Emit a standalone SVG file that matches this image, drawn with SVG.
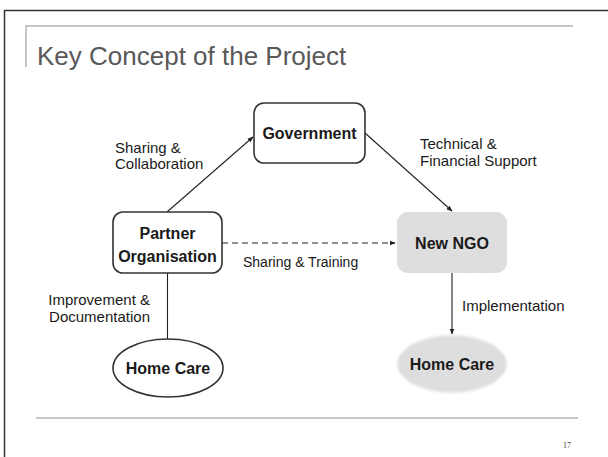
<svg xmlns="http://www.w3.org/2000/svg" width="608" height="457" viewBox="0 0 608 457">
<style>
.lbl{font-family:"Liberation Sans",Arial,sans-serif;font-size:15px;fill:#1a1a1a}
.nt{font-family:"Liberation Sans",Arial,sans-serif;font-size:16px;font-weight:bold;fill:#1a1a1a;text-anchor:middle}
.box{fill:#fff;stroke:#333;stroke-width:1.6}
.con{stroke:#222;stroke-width:1.1;fill:none}
</style>
<defs>
<marker id="ah" viewBox="0 0 10 10" refX="9" refY="5" markerWidth="6" markerHeight="6" orient="auto" markerUnits="userSpaceOnUse">
<path d="M0,1 L10,5 L0,9 z" fill="#222"/>
</marker>
<filter id="tex" x="-10%" y="-10%" width="120%" height="120%">
<feTurbulence type="fractalNoise" baseFrequency="0.9" numOctaves="2" seed="3" result="n"/>
<feColorMatrix in="n" type="matrix" values="0 0 0 0 0.6  0 0 0 0 0.6  0 0 0 0 0.6  0 0 0 0.35 0" result="g"/>
<feComposite in="g" in2="SourceAlpha" operator="in" result="gc"/>
<feMerge><feMergeNode in="SourceGraphic"/><feMergeNode in="gc"/></feMerge>
</filter>
<filter id="soft" x="-10%" y="-10%" width="120%" height="120%">
<feGaussianBlur stdDeviation="1.2"/>
</filter>
</defs>
<rect width="608" height="457" fill="#fff"/>
<g id="frame">
<path d="M4.5,457 V10.5 H608" fill="none" stroke="#333" stroke-width="1.5"/>
<path d="M26,67 V26 H573" fill="none" stroke="#b4b4b4" stroke-width="1.5"/>
<line x1="36" y1="418" x2="578" y2="418" stroke="#b4b4b4" stroke-width="1.5"/>
</g>
<text x="37" y="65" font-family="Liberation Sans,Arial,sans-serif" font-size="26" fill="#595959">Key Concept of the Project</text>
<text x="563" y="448" font-family="Liberation Serif,'Times New Roman',serif" font-size="8" fill="#444">17</text>
<g id="connectors">
<line class="con" x1="167" y1="212" x2="253" y2="137" marker-end="url(#ah)"/>
<line class="con" x1="365" y1="133" x2="452" y2="211" marker-end="url(#ah)"/>
<line class="con" x1="222" y1="243" x2="395" y2="243" stroke-dasharray="6,4" marker-end="url(#ah)"/>
<line class="con" x1="452" y1="273" x2="452" y2="334" marker-end="url(#ah)"/>
<line class="con" x1="167.5" y1="273" x2="167.5" y2="339"/>
<text class="lbl" x="115" y="153">Sharing &amp;</text>
<text class="lbl" x="115" y="169">Collaboration</text>
<text class="lbl" x="420" y="149">Technical &amp;</text>
<text class="lbl" x="420" y="166">Financial Support</text>
<text class="lbl" x="243" y="267" style="font-size:14px">Sharing &amp; Training</text>
<text class="lbl" x="150" y="305" text-anchor="end">Improvement &amp;</text>
<text class="lbl" x="150" y="322" text-anchor="end">Documentation</text>
<text class="lbl" x="462" y="311">Implementation</text>
</g>
<g id="government">
<rect class="box" x="254" y="103" width="111" height="60" rx="10"/>
<text class="nt" x="309.5" y="139">Government</text>
</g>
<g id="partner">
<rect class="box" x="113" y="212" width="109" height="61" rx="10"/>
<text class="nt" x="167.5" y="239">Partner</text>
<text class="nt" x="167.5" y="262">Organisation</text>
</g>
<g id="newngo">
<rect x="397" y="212" width="110" height="61" rx="11" fill="#e2e2e2" filter="url(#tex)"/>
<text class="nt" x="452" y="249">New NGO</text>
</g>
<g id="homecare-left">
<ellipse class="box" cx="168" cy="368" rx="55" ry="29"/>
<text class="nt" x="168" y="374">Home Care</text>
</g>
<g id="homecare-right">
<g filter="url(#soft)"><ellipse cx="452" cy="364" rx="55" ry="29" fill="#e2e2e2"/></g>
<ellipse cx="452" cy="364" rx="53" ry="27" fill="#e2e2e2" filter="url(#tex)"/>
<text class="nt" x="452" y="370">Home Care</text>
</g>
</svg>
